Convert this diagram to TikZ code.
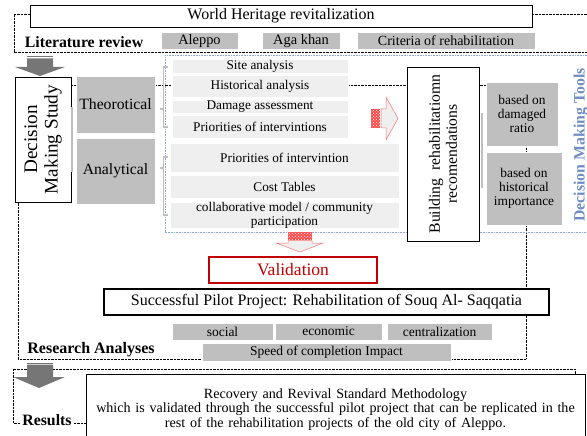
\documentclass[tikz,border=0pt]{standalone}
\usepackage{fontspec}
\setmainfont{Liberation Serif}
\usetikzlibrary{patterns}
\definecolor{boxgray}{RGB}{191,191,191}
\definecolor{itemgray}{RGB}{239,239,239}
\definecolor{arrowgray}{RGB}{118,118,118}
\definecolor{valred}{RGB}{192,0,0}
\definecolor{toolblue}{RGB}{111,140,198}
\definecolor{bluedot}{RGB}{142,165,215}
\tikzset{
  dotline/.style={line width=0.7pt,dash pattern=on 0.7pt off 0.7pt},
  bluedotline/.style={bluedot,line width=0.8pt,dash pattern=on 0.8pt off 0.8pt},
  darkbox/.style={fill=boxgray,draw=white,line width=0.6pt,inner sep=0pt,align=center,
    font=\fontsize{13.5}{14}\selectfont},
  itembox/.style={fill=itemgray,draw=white,line width=0.6pt,inner sep=0pt,align=center,
    font=\fontsize{13.3}{13.5}\selectfont},
  framebox/.style={draw=black,fill=white,line width=0.8pt,inner sep=0pt,align=center},
  stripearrow/.style={fill=itemgray,draw=red!55,line width=0.5pt},
  stripehatch/.style={pattern=crosshatch dots,pattern color=white},
  headtitle/.style={font=\fontsize{15.8}{16}\selectfont\bfseries}
}

\begin{document}
\begin{tikzpicture}[x=1pt,y=-1pt]
\useasboundingbox (0,0) rectangle (587,436);
%dotted frames
\draw[dotline] (587,14) -- (14,14) -- (14,52) -- (587,52);
\draw[dotline] (18,85) rectangle (526,359);
\draw[bluedotline] (587,55) -- (165,55) -- (165,232) -- (587,232);
\draw[dotline] (13,369) rectangle (575,423);
%literature review
\node[framebox,minimum width=502pt,minimum height=22pt,font=\fontsize{16}{16}\selectfont]
  (worldheritage) at (281,16) {World Heritage revitalization};
\node[headtitle] (litreview) at (84,42) {Literature review};
\node[darkbox,minimum width=77pt,minimum height=17pt,font=\fontsize{14.4}{15}\selectfont] (aleppo) at (199.5,41) {Aleppo};
\node[darkbox,minimum width=78pt,minimum height=17pt,font=\fontsize{14.4}{15}\selectfont] (agakhan) at (301,41) {Aga khan};
\node[darkbox,minimum width=178pt,minimum height=17pt,font=\fontsize{14}{15}\selectfont] (criteria) at (446,41) {Criteria of rehabilitation};
\fill[arrowgray] (27,56.5) rectangle (53,57.5);
\fill[arrowgray] (27,58.5) -- (53,58.5) -- (53,67) -- (65,67) -- (40,76) -- (15,67) -- (27,67) -- cycle;
%decision making study
\node[framebox,rotate=90,minimum width=125pt,minimum height=56pt,font=\fontsize{19.2}{20.5}\selectfont]
  (decisionstudy) at (43,139.5) {Decision\\Making Study};
\draw[boxgray,line width=1.5pt] (72,107) -- (72,172);
\node[darkbox,minimum width=79pt,minimum height=57pt,font=\fontsize{15.7}{16}\selectfont]
  (theorotical) at (115.5,104.5) {Theorotical};
\node[darkbox,minimum width=79pt,minimum height=66pt,font=\fontsize{15.7}{16}\selectfont]
  (analytical) at (115.5,171) {Analytical};
\draw[boxgray,line width=1.8pt] (168,67) -- (163.5,67) -- (163.5,127) -- (168,127) (163.5,109) -- (160,109);
\draw[boxgray,line width=1.8pt] (168,157) -- (163.5,157) -- (163.5,215) -- (168,215) (163.5,168) -- (160,168);
\node[itembox,minimum width=176pt,minimum height=14pt] (siteanalysis) at (260,66) {Site analysis};
\node[itembox,minimum width=176pt,minimum height=22pt] (historical) at (260,86) {Historical analysis};
\node[itembox,minimum width=176pt,minimum height=13pt] (damage) at (260,106.5) {Damage assessment};
\node[itembox,minimum width=176pt,minimum height=23pt] (prioritiesT) at (260,126.5) {Priorities of intervintions};
\node[itembox,minimum width=229pt,minimum height=29pt] (prioritiesA) at (284.5,157.5) {Priorities of intervintion};
\node[itembox,minimum width=229pt,minimum height=23pt] (costtables) at (284.5,186.5) {Cost Tables};
\node[itembox,minimum width=229pt,minimum height=25pt] (collaborative) at (284.5,215.5)
  {collaborative model / community\\participation};
%striped arrows
\fill[red!70] (371,109) rectangle (380,128);
\fill[stripehatch] (371,109) rectangle (380,128);
\draw[stripearrow] (381,109) -- (386,109) -- (386,97) -- (398,118.5) -- (386,140) -- (386,128) -- (381,128) -- cycle;
\fill[red!70] (288,232) rectangle (312,240);
\fill[stripehatch] (288,232) rectangle (312,240);
\draw[stripearrow] (288,240.5) -- (288,243) -- (276,243) -- (300,252) -- (323,243) -- (312,243) -- (312,240.5) -- cycle;
%decision making tools
\node[framebox,rotate=90,minimum width=174pt,minimum height=72pt,font=\fontsize{15.7}{17}\selectfont]
  (buildingrec) at (443,154) {Building\ \ rehabilitatiomn\\recomendations};
\draw[boxgray,line width=1.5pt] (482,113) -- (482,188);
\node[darkbox,minimum width=72pt,minimum height=64pt,font=\fontsize{13.4}{14}\selectfont]
  (damagedratio) at (522,114) {based on\\damaged\\ratio};
\node[darkbox,minimum width=76pt,minimum height=73pt,font=\fontsize{13.4}{14}\selectfont]
  (historicimp) at (524,188.5) {based on\\historical\\importance};
\node[rotate=90,text=toolblue,headtitle] (tools) at (581,145) {Decision Making Tools};
%research analyses
\node[framebox,draw=valred,line width=1.5pt,minimum width=168pt,minimum height=26pt,
  text=valred,font=\fontsize{17.5}{18}\selectfont] (validation) at (293,270) {Validation};
\node[framebox,line width=1.5pt,minimum width=445pt,minimum height=26pt,font=\fontsize{16}{16}\selectfont]
  (pilot) at (326.5,302) {Successful Pilot Project: Rehabilitation of Souq Al- Saqqatia};
\node[darkbox,minimum width=101pt,minimum height=17pt] (social) at (222.5,331.5) {social};
\node[darkbox,minimum width=107pt,minimum height=17pt] (economic) at (328.5,331.5) {economic};
\node[darkbox,minimum width=105pt,minimum height=17pt] (centralization) at (439.5,331.5) {centralization};
\node[darkbox,minimum width=249pt,minimum height=18pt] (speed) at (326.5,352) {Speed of completion Impact};
\node[headtitle,font=\fontsize{16}{16}\selectfont\bfseries] (research) at (91,350) {Research Analyses};
%results
\fill[arrowgray] (27,362.5) rectangle (53,363.5);
\fill[arrowgray] (27,364.5) -- (53,364.5) -- (53,377) -- (65,377) -- (39,388) -- (13,377) -- (27,377) -- cycle;
\node[headtitle,fill=white,inner sep=1pt] (results) at (47,420) {Results};
\node[framebox,minimum width=499pt,minimum height=71pt,text width=497pt,
  font=\fontsize{14.1}{14.5}\selectfont] (methodology) at (335.5,409.5)
  {Recovery and Revival Standard Methodology\\which is validated through the successful pilot project that can be replicated in the\\rest of the rehabilitation projects of the old city of Aleppo.};
\end{tikzpicture}
\end{document}
